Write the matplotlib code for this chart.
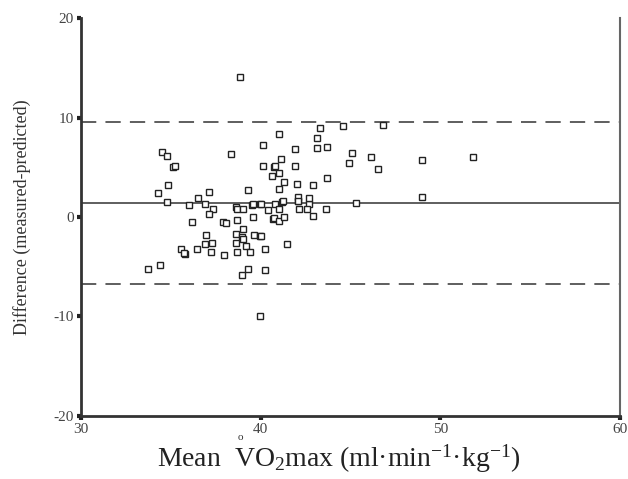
import matplotlib
matplotlib.use("Agg")
import matplotlib.pyplot as plt

plt.rcParams['font.family'] = ['Liberation Serif', 'DejaVu Serif']
plt.rcParams['mathtext.fontset'] = 'custom'
plt.rcParams['mathtext.rm'] = 'Liberation Serif'

mean_vo2 = [38.86, 34.5, 34.77, 35.1, 35.25, 34.87, 34.3, 34.77, 38.37, 36.03,
            36.5, 37.15, 36.9, 37.37, 37.13, 36.2, 37.9, 38.08, 36.96, 39.32,
            38.62, 38.71, 39.0, 39.53, 39.6, 39.97, 38.7, 39.56, 39.0, 38.62,
            38.95, 39.0, 39.64, 39.94, 35.55, 35.8, 35.75, 36.44, 36.9, 37.28,
            37.22, 37.98, 38.63, 39.19, 38.71, 39.41, 33.75, 34.4, 39.32, 38.95,
            40.03, 40.8, 41.2, 42.1, 42.7, 45.3, 40.43, 41.0, 42.16, 42.57,
            43.65, 40.68, 40.75, 41.05, 41.3, 42.94, 40.03, 41.46, 40.27, 40.27,
            39.94, 43.28, 44.6, 41.05, 43.13, 40.12, 41.92, 43.13, 43.72, 45.08,
            41.14, 40.12, 40.75, 40.8, 41.92, 44.9, 46.16, 41.05, 40.66, 41.3,
            42.0, 42.94, 43.72, 41.05, 42.07, 42.07, 42.72, 41.22, 46.8, 48.98,
            46.55, 48.98, 51.82]
difference = [14.07, 6.5, 6.1, 5.0, 5.17, 3.22, 2.42, 1.55, 6.35, 1.18,
              1.92, 2.52, 1.28, 0.81, 0.34, -0.5, -0.5, -0.6, -1.81, 2.76,
              0.98, 0.81, 0.81, 1.25, 1.31, 1.28, -0.27, 0.0, -1.2, -1.71,
              -2.0, -2.2, -1.77, -1.9, -3.25, -3.76, -3.6, -3.25, -2.75, -2.62,
              -3.52, -3.86, -2.62, -2.92, -3.52, -3.52, -5.2, -4.83, -5.2, -5.87,
              1.28, 1.28, 1.51, 1.58, 1.28, 1.45, 0.74, 0.84, 0.84, 0.84,
              0.84, -0.17, -0.1, -0.4, 0.0, 0.1, -1.9, -2.68, -3.25, -5.3,
              -10.0, 9.0, 9.13, 8.3, 7.93, 7.22, 6.82, 6.99, 7.05, 6.48,
              5.88, 5.14, 5.04, 5.1, 5.14, 5.44, 6.01, 4.43, 4.1, 3.5,
              3.36, 3.26, 3.97, 2.86, 2.01, 1.61, 1.91, 1.61, 9.24, 5.78,
              4.84, 2.05, 6.01]

mean_diff = 1.41
upper_loa = 9.6
lower_loa = -6.7

x_ticks = [30, 40, 50, 60]
y_ticks = [-20, -10, 0, 10, 20]
y_tick_labels = ["-20", "-10", "0", "10", "20"]

fig = plt.figure(figsize=(6.28, 4.79), dpi=100)
ax = fig.add_axes([0.129, 0.132, 0.858, 0.830])

ax.axhline(upper_loa, color='#333333', lw=1.1, dashes=(10, 6))
ax.axhline(lower_loa, color='#333333', lw=1.1, dashes=(10, 6))
ax.axhline(mean_diff, color='#333333', lw=1.1)

ax.plot(mean_vo2, difference, linestyle='none', marker='s', markersize=5,
        markerfacecolor='white', markeredgecolor='#222222', markeredgewidth=1.0)

ax.set_xlim(30, 60)
ax.set_ylim(-20, 20)
ax.set_xticks(x_ticks)
ax.set_yticks(y_ticks)
ax.set_xticklabels([str(t) for t in x_ticks], fontsize=11, color='#444444')
ax.set_yticklabels(y_tick_labels, fontsize=11, color='#444444')
ax.tick_params(direction='out', length=3, width=3, color='#222222', pad=2)

for s in ['left', 'bottom']:
    ax.spines[s].set_linewidth(2)
    ax.spines[s].set_color('#333333')
ax.spines['top'].set_visible(False)
ax.spines['right'].set_linewidth(1.5)
ax.spines['right'].set_color('#666666')

ax.set_ylabel("Difference (measured-predicted)", fontsize=13, color='#333333', labelpad=16)
ax.set_xlabel(r"Mean  V$\mathregular{O_2}$max (ml·min$\mathregular{^{-1}}$·kg$\mathregular{^{-1}}$)",
              fontsize=20, color='#222222', labelpad=5)
ax.xaxis.label.set_x(0.479)
fig.text(240 / 628, 1 - 437 / 479, "o", fontsize=8, color='#333333', ha='center', va='center')

fig.savefig("out.png", dpi=100, facecolor='white')
